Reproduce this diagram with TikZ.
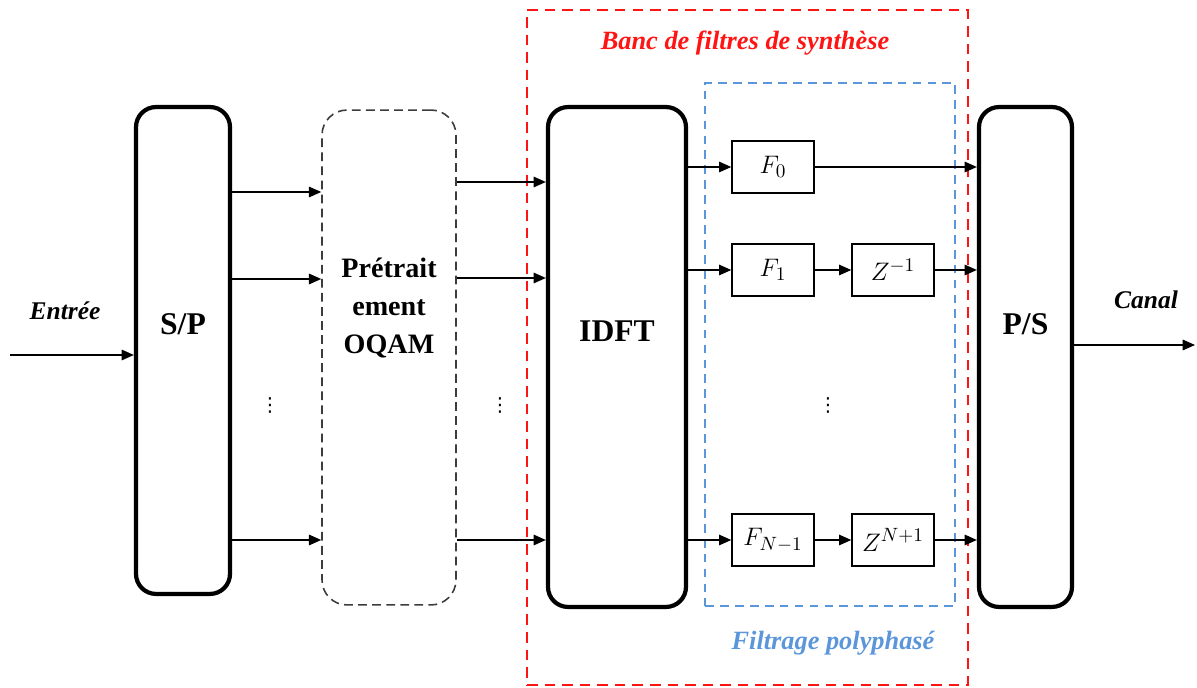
\documentclass[tikz,border=0pt]{standalone}
\usepackage{fontspec}
\setmainfont{Liberation Serif}
\newfontfamily\dotsfont{DejaVu Sans}
\usetikzlibrary{positioning,arrows.meta,calc}
\definecolor{BancRed}{RGB}{255,20,20}
\definecolor{PolyBlue}{RGB}{91,150,218}
\definecolor{PreGray}{RGB}{60,60,60}

\begin{document}
\begin{tikzpicture}[x=0.02cm, y=-0.02cm, every node/.style={align=center},
  bigblock/.style={draw, line width=2.4pt, rounded corners=0.4cm},
  preblock/.style={draw=PreGray, line width=0.9pt, dash pattern=on 5pt off 3pt, rounded corners=0.5cm},
  bigtxt/.style={font=\fontsize{18}{22}\selectfont\bfseries},
  pretxt/.style={font=\fontsize{16}{21.5}\selectfont\bfseries},
  filt/.style={draw, line width=0.8pt, minimum width=1.64cm, minimum height=1.04cm, font=\fontsize{15}{18}\selectfont},
  arr/.style={-{Triangle[length=7pt,width=6pt]}, line width=0.8pt},
  lbl/.style={font=\fontsize{14.5}{17}\selectfont\bfseries\itshape},
  vdot/.style={font=\dotsfont\fontsize{11}{12}\selectfont}]
  \useasboundingbox (0,0) rectangle (1197,688);
  % frames
  \node[draw=BancRed, line width=1.2pt, dash pattern=on 6pt off 4pt, minimum width=8.82cm, minimum height=13.5cm] (banc) at (747.5,347.5) {};
  \node[draw=PolyBlue, line width=1pt, dash pattern=on 5pt off 3.5pt, minimum width=5.0cm, minimum height=10.46cm] (poly) at (830,344.5) {};
  \node[lbl, text=BancRed, font=\fontsize{15}{18}\selectfont\bfseries\itshape] (banclbl) at (745,43) {Banc de filtres de synthèse};
  \node[lbl, text=PolyBlue, font=\fontsize{15}{18}\selectfont\bfseries\itshape] (polylbl) at (833,643) {Filtrage polyphasé};
  % main blocks
  \node[bigblock, minimum width=1.88cm, minimum height=9.74cm] (sp) at (183,350.5) {};
  \node[preblock, minimum width=2.68cm, minimum height=9.9cm] (pre) at (389,357.5) {};
  \node[bigblock, minimum width=2.76cm, minimum height=10cm] (idft) at (617,357) {};
  \node[bigblock, minimum width=1.86cm, minimum height=10cm] (ps) at (1025.5,357) {};
  \node[bigtxt] (sptxt) at (183,324) {S/P};
  \node[pretxt] (pretxt) at (389,308) {Prétrait\\ement\\OQAM};
  \node[bigtxt] (idfttxt) at (617,331) {IDFT};
  \node[bigtxt] (pstxt) at (1025.5,324) {P/S};
  % polyphase filters
  \node[filt] (f0) at (773,167) {$F_0$};
  \node[filt] (f1) at (773,270) {$F_1$};
  \node[filt] (z1) at (893,270) {$Z^{-1}$};
  \node[filt] (fn) at (773,540) {$F_{N-1}$};
  \node[filt] (zn) at (893,540) {$Z^{N+1}$};
  % input / output
  \coordinate (in) at (10,355);
  \coordinate (out) at (1195,345);
  \draw[arr] (in) -- (in -| sp.west);
  \draw[arr] (ps.east |- out) -- (out);
  \node[lbl] (entree) at (65,311) {Entrée};
  \node[lbl] (canal) at (1146,300) {Canal};
  % parallel branches
  \foreach \y in {192,279,540} \draw[arr] (sp.east |- 0,\y) -- (pre.west |- 0,\y);
  \foreach \y in {182,278,540} \draw[arr] (pre.east |- 0,\y) -- (idft.west |- 0,\y);
  \draw[arr] (idft.east |- f0) -- (f0.west);
  \draw[arr] (idft.east |- f1) -- (f1.west);
  \draw[arr] (idft.east |- fn) -- (fn.west);
  \draw[arr] (f0.east) -- (f0 -| ps.west);
  \draw[arr] (f1) -- (z1);
  \draw[arr] (z1.east) -- (z1 -| ps.west);
  \draw[arr] (fn) -- (zn);
  \draw[arr] (zn.east) -- (zn -| ps.west);
  % dots
  \node[vdot] (d1) at (270,405) {⋮};
  \node[vdot] (d2) at (500,405) {⋮};
  \node[vdot] (d3) at (828,405) {⋮};
\end{tikzpicture}
\end{document}
